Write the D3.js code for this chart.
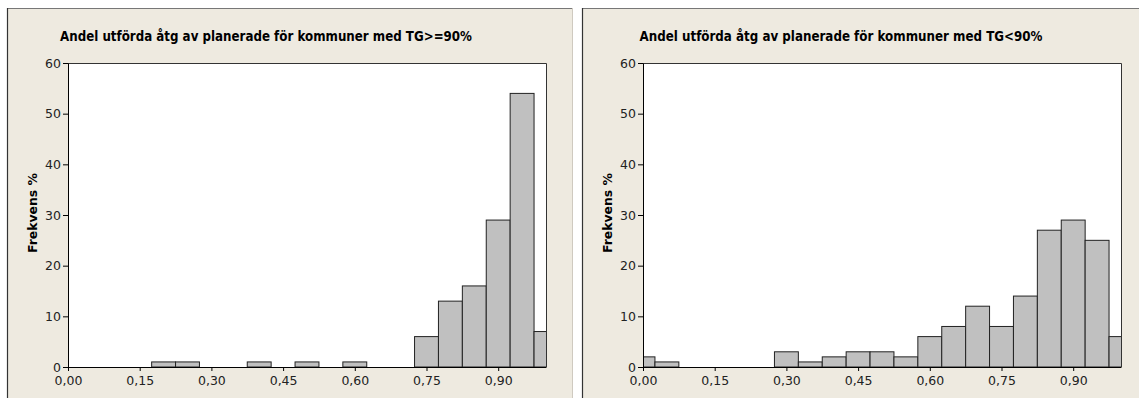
<!DOCTYPE html>
<html>
<head>
<meta charset="utf-8">
<script src="https://cdn.jsdelivr.net/npm/d3@7"></script>
<style>
  body { margin: 0; background: #fff; }
  text { font-family: "DejaVu Sans", Verdana, sans-serif; }
</style>
</head>
<body>
<div id="chart"></div>
<script>
// histogram data: bin midpoints (width 0.05) and frequency in percent
let binMids1 = [0.20, 0.25, 0.40, 0.50, 0.60, 0.75, 0.80, 0.85, 0.90, 0.95, 1.00]
let freq1 = [1, 1, 1, 1, 1, 6, 13, 16, 29, 54, 7]

let binMids2 = [0.00, 0.05, 0.30, 0.35, 0.40, 0.45, 0.50, 0.55, 0.60, 0.65, 0.70, 0.75, 0.80, 0.85, 0.90, 0.95, 1.00]
let freq2 = [2, 1, 3, 1, 2, 3, 3, 2, 6, 8, 12, 8, 14, 27, 29, 25, 6]

let xTicks = [0, 0.15, 0.30, 0.45, 0.60, 0.75, 0.90]
let yTicks = [0, 10, 20, 30, 40, 50, 60]
let titles = ["Andel utförda åtg av planerade för kommuner med TG>=90%",
              "Andel utförda åtg av planerade för kommuner med TG<90%"]
let yLabel = "Frekvens %"
let binWidth = 0.05

let svg = d3.select("#chart").append("svg")
  .attr("width", 1139)
  .attr("height", 398)

function drawPanel(dx, idx, mids, freqs) {
  let g = svg.append("g").attr("transform", `translate(${dx},0)`)

  // panel background + borders
  g.append("rect")
    .attr("x", 7).attr("y", 8)
    .attr("width", 565).attr("height", 400)
    .attr("fill", "#eeeae0")
  g.append("line").attr("x1", 7).attr("x2", 572).attr("y1", 8.5).attr("y2", 8.5)
    .attr("stroke", "#777").attr("stroke-width", 1)
  g.append("line").attr("x1", 7.5).attr("x2", 7.5).attr("y1", 8).attr("y2", 398)
    .attr("stroke", "#333").attr("stroke-width", 1.2)
  g.append("line").attr("x1", 572.5).attr("x2", 572.5).attr("y1", 8).attr("y2", 398)
    .attr("stroke", "#cfcac0").attr("stroke-width", 1)

  let x = d3.scaleLinear().domain([0, 1.0]).range([68, 546])
  let y = d3.scaleLinear().domain([0, 60]).range([367, 63])

  // plot area
  g.append("rect")
    .attr("x", x(0)).attr("y", y(60))
    .attr("width", x(1) - x(0)).attr("height", y(0) - y(60))
    .attr("fill", "#fff")

  let clipId = "clip" + idx
  g.append("clipPath").attr("id", clipId)
    .append("rect")
    .attr("x", x(0)).attr("y", y(60) - 1)
    .attr("width", x(1) - x(0)).attr("height", y(0) - y(60) + 1)

  let bins = mids.map((m, i) => ({ x0: m - binWidth / 2, x1: m + binWidth / 2, v: freqs[i] }))

  g.append("g").attr("clip-path", `url(#${clipId})`)
    .selectAll("rect")
    .data(bins)
    .enter()
    .append("rect")
    .attr("x", d => x(d.x0))
    .attr("y", d => y(d.v))
    .attr("width", d => x(d.x1) - x(d.x0))
    .attr("height", d => y(0) - y(d.v))
    .style("fill", "#c0c0c0")
    .style("stroke", "#222")
    .style("stroke-width", 1)

  // top & right frame
  g.append("path")
    .attr("d", `M${x(0)},${y(60) + 0.5}H${x(1) + 0.5}V${y(0)}`)
    .attr("fill", "none").attr("stroke", "#333").attr("stroke-width", 1)

  // axes
  let xAxis = d3.axisBottom(x)
    .tickValues(xTicks)
    .tickSize(4)
    .tickSizeOuter(0)
    .tickFormat(d => d3.format(".2f")(d).replace(".", ","))
  let ax = g.append("g").attr("transform", `translate(0,${y(0)})`).call(xAxis)
  ax.select(".domain").attr("stroke", "#000")
  ax.selectAll("text").attr("font-size", 12.5).attr("font-family", "DejaVu Sans").attr("fill", "#222").attr("dy", "0.85em")

  let yAxis = d3.axisLeft(y)
    .tickValues(yTicks)
    .tickSize(5)
    .tickSizeOuter(0)
  let ay = g.append("g").attr("transform", `translate(${x(0)},0)`).call(yAxis)
  ay.select(".domain").attr("stroke", "#000")
  ay.selectAll("text").attr("font-size", 12.5).attr("font-family", "DejaVu Sans").attr("fill", "#222").attr("x", -7)

  // titles
  g.append("text")
    .attr("x", 266).attr("y", 41)
    .attr("text-anchor", "middle")
    .attr("font-weight", "bold")
    .attr("font-size", 14.5)
    .attr("textLength", idx == 0 ? 412 : 403)
    .attr("lengthAdjust", "spacingAndGlyphs")
    .text(titles[idx])

  g.append("text")
    .attr("transform", "translate(32,213) rotate(-90)")
    .attr("text-anchor", "middle")
    .attr("dominant-baseline", "central")
    .attr("font-weight", "bold")
    .attr("font-size", 12.5)
    .attr("textLength", 80)
    .attr("lengthAdjust", "spacingAndGlyphs")
    .text(yLabel)
}

drawPanel(0, 0, binMids1, freq1)
drawPanel(575, 1, binMids2, freq2)
</script>
</body>
</html>
